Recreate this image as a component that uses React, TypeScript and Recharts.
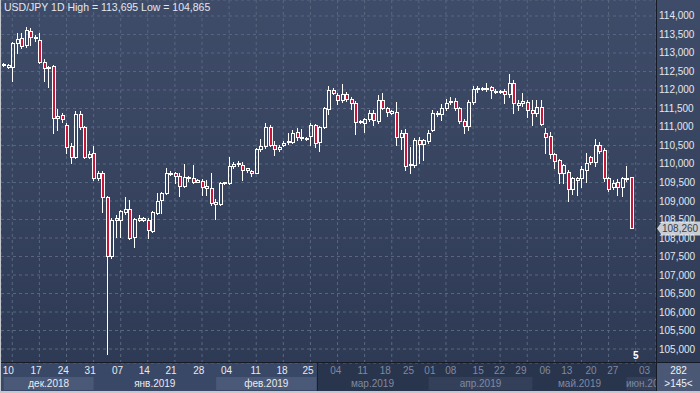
import React from "react";
import { ComposedChart, Bar, XAxis, YAxis, CartesianGrid, ReferenceLine } from "recharts";

// USD/JPY daily candles, Dec 2018 - Jun 2019
const open = [
  112.70, 112.63, 112.63, 113.28, 113.40, 113.22, 113.60, 113.41, 113.35, 112.76,
  112.59, 112.65, 111.24, 111.32, 111.05, 110.49, 110.18, 111.34, 110.99, 110.20,
  110.31, 109.61, 109.75, 109.12, 107.51, 108.49, 108.49, 108.71, 108.78, 108.03,
  108.49, 108.53, 108.50, 108.20, 108.68, 109.03, 109.22, 109.74, 109.75, 109.68,
  109.41, 109.62, 109.61, 109.52, 109.55, 109.34, 109.36, 108.92, 108.92, 109.49,
  109.49, 109.95, 109.99, 109.96, 109.84, 109.80, 109.77, 110.40, 110.49, 111.00,
  110.51, 110.40, 110.51, 110.60, 110.60, 110.87, 110.71, 110.69, 110.76, 111.05,
  110.60, 111.00, 111.48, 112.00, 111.86, 111.73, 111.89, 111.75, 111.64, 111.15,
  111.12, 111.21, 111.37, 111.17, 111.73, 111.51, 111.39, 111.40, 110.72, 110.83,
  109.97, 109.97, 110.65, 110.54, 110.63, 110.92, 111.35, 111.34, 111.52, 111.69,
  111.69, 111.51, 111.17, 111.03, 111.68, 112.02, 112.03, 112.03, 112.07, 111.98,
  111.97, 111.98, 111.89, 112.20, 111.60, 111.66, 111.67, 111.46, 111.39, 111.53,
  110.83, 110.76, 110.27, 110.11, 109.75, 109.79, 109.32, 109.58, 109.61, 109.84,
  110.18, 110.06, 110.51, 110.38, 109.61, 109.39, 109.52, 109.39, 109.60, 109.64,
];
const high = [
  112.74, 112.70, 113.31, 113.53, 113.53, 113.695, 113.68, 113.49, 113.53, 112.83,
  112.66, 112.68, 111.48, 111.38, 111.10, 110.56, 111.44, 111.44, 111.02, 110.35,
  110.49, 109.82, 109.80, 109.13, 108.53, 108.62, 108.76, 109.12, 109.03, 108.55,
  108.63, 108.57, 108.55, 108.73, 109.21, 109.25, 109.88, 109.80, 109.78, 109.75,
  110.00, 109.68, 109.97, 109.60, 109.60, 109.57, 109.75, 109.05, 109.52, 109.52,
  110.18, 110.05, 110.09, 110.06, 109.90, 109.83, 110.42, 110.67, 111.12, 111.05,
  110.62, 110.50, 110.62, 110.85, 110.92, 110.98, 110.94, 110.73, 111.10, 111.08,
  111.02, 111.53, 112.10, 112.05, 111.91, 112.16, 111.95, 111.80, 111.70, 111.20,
  111.24, 111.45, 111.45, 111.86, 111.91, 111.55, 111.45, 111.68, 110.92, 110.95,
  110.47, 110.70, 110.72, 110.68, 110.92, 111.45, 111.42, 111.62, 111.75, 111.82,
  111.78, 111.55, 111.22, 111.72, 112.11, 112.11, 112.09, 112.18, 112.12, 112.03,
  112.00, 112.02, 112.43, 112.27, 111.72, 111.93, 111.72, 111.72, 111.73, 111.73,
  110.96, 110.87, 110.30, 110.14, 110.00, 109.83, 109.66, 109.66, 109.95, 110.29,
  110.22, 110.67, 110.60, 110.42, 109.65, 109.58, 109.60, 109.64, 109.95, 109.66,
];
const low = [
  112.64, 112.60, 112.25, 112.99, 113.13, 113.15, 113.22, 113.33, 112.74, 112.25,
  112.09, 110.83, 110.92, 111.14, 110.29, 110.02, 110.16, 110.95, 110.15, 110.15,
  109.57, 109.57, 108.71, 104.865, 107.46, 108.04, 108.04, 108.65, 107.97, 107.76,
  108.45, 108.47, 107.99, 108.15, 108.65, 108.68, 109.18, 109.70, 109.48, 109.14,
  109.38, 109.55, 109.48, 109.50, 109.16, 109.16, 108.90, 108.51, 108.90, 109.46,
  109.45, 109.90, 109.95, 109.57, 109.78, 109.68, 109.75, 110.35, 110.44, 110.48,
  110.24, 110.36, 110.48, 110.55, 110.58, 110.65, 110.66, 110.66, 110.52, 110.47,
  110.36, 110.98, 111.34, 111.88, 111.62, 111.68, 111.70, 111.48, 110.81, 111.10,
  110.87, 111.15, 111.05, 111.10, 111.48, 111.30, 111.35, 110.51, 110.40, 109.85,
  109.75, 109.92, 110.02, 110.10, 110.58, 110.90, 111.30, 111.20, 111.45, 111.62,
  111.45, 111.10, 110.85, 110.92, 111.62, 111.95, 112.00, 111.98, 111.78, 111.92,
  111.93, 111.66, 111.80, 111.39, 111.45, 111.58, 111.28, 111.05, 111.30, 111.05,
  110.29, 110.15, 109.88, 109.48, 109.48, 109.01, 109.20, 109.16, 109.37, 109.50,
  110.00, 109.95, 110.30, 109.55, 109.28, 109.33, 109.16, 109.14, 109.55, 108.26,
];
const close = [
  112.67, 112.68, 113.28, 113.39, 113.19, 113.62, 113.42, 113.42, 112.76, 112.59,
  112.63, 111.24, 111.31, 111.22, 110.47, 110.18, 111.35, 110.99, 110.20, 110.27,
  109.61, 109.75, 109.12, 107.51, 108.50, 108.53, 108.74, 108.78, 107.99, 108.51,
  108.55, 108.49, 108.22, 108.71, 109.00, 109.22, 109.75, 109.77, 109.68, 109.41,
  109.64, 109.64, 109.52, 109.57, 109.39, 109.40, 108.94, 108.97, 109.49, 109.50,
  109.95, 110.00, 110.02, 109.84, 109.88, 109.75, 110.40, 110.49, 111.01, 110.51,
  110.40, 110.47, 110.58, 110.63, 110.85, 110.72, 110.72, 110.70, 111.05, 110.58,
  111.00, 111.51, 112.00, 111.91, 111.73, 111.89, 111.76, 111.64, 111.14, 111.16,
  111.21, 111.37, 111.19, 111.73, 111.51, 111.41, 111.42, 110.74, 110.83, 109.95,
  110.00, 110.65, 110.54, 110.65, 110.85, 111.37, 111.38, 111.52, 111.66, 111.71,
  111.51, 111.17, 111.03, 111.68, 112.04, 112.06, 112.05, 112.06, 112.00, 111.95,
  111.96, 111.89, 112.20, 111.64, 111.66, 111.71, 111.46, 111.39, 111.53, 111.08,
  110.74, 110.27, 110.09, 109.75, 109.97, 109.32, 109.61, 109.63, 109.86, 110.04,
  110.06, 110.51, 110.36, 109.61, 109.32, 109.49, 109.39, 109.61, 109.62, 108.26,
];

const priceTicks = [
  105, 105.5, 106, 106.5, 107, 107.5, 108, 108.5, 109, 109.5,
  110, 110.5, 111, 111.5, 112, 112.5, 113, 113.5, 114,
];
const weekGrid = [2, 8, 14, 20, 26, 32, 38, 44, 50, 56, 62, 68, 74, 80, 86, 92, 98, 104, 110, 116, 122, 128, 134, 140];

const dateTickPos = [1.6, 7.7, 13.7, 19.6, 25.6, 31.5, 37.4, 43.5, 49.6, 56, 61.8, 67.5, 73.6, 79.5, 84.5, 89.6, 94.3, 98.9, 104.9, 109.6, 114.3, 119.6, 124.4, 129.7, 134.5, 141.5];
const dateTickLabels = ["10", "17", "24", "31", "07", "14", "21", "28", "04", "11", "18", "25", "04", "11", "18", "25", "01", "08", "15", "22", "29", "06", "13", "20", "27", "03"];

const monthStarts = [0.6, 20.5, 47.3, 69.5, 94, 117, 137.5];
const monthEnds = [20.5, 47.3, 69.5, 94, 117, 137.5, 144.5];
const monthLabels = ["дек.2018", "янв.2019", "фев.2019", "мар.2019", "апр.2019", "май.2019", "июн.20"];

const W = 700;
const H = 393;
const PLOT_LEFT = 1;
const AXIS_W = 44;
const EMPTY_SLOTS = 5;
const SLOTS = open.length + EMPTY_SLOTS;
const SLOT_PX = (W - PLOT_LEFT - AXIS_W) / SLOTS;
const FOCUS_END = 69.5;
const FONT = '"Liberation Sans", Arial, sans-serif';
const FS = 10;

const data = Array.from({ length: SLOTS }, (_, i) =>
  i < open.length
    ? { i, range: [low[i], high[i]], o: open[i], h: high[i], l: low[i], c: close[i] }
    : { i }
);

const fmt = (v: number) => v.toFixed(3).replace(".", ",");

function Candle(props: any) {
  const { x, y, width, height, payload } = props;
  if (!payload || payload.o == null || !height) return null;
  const { o, h, l, c } = payload;
  const k = height / (h - l);
  const py = (v: number) => y + (h - v) * k;
  const cx = Math.floor(x + width / 2) + 0.5;
  const up = c >= o;
  const top = Math.round(py(Math.max(o, c))) + 0.5;
  let bot = Math.round(py(Math.min(o, c))) + 0.5;
  if (bot - top < 1) bot = top + 1;
  return (
    <g shapeRendering="crispEdges">
      <line x1={cx} x2={cx} y1={Math.round(y)} y2={top} stroke="#ffffff" />
      <line x1={cx} x2={cx} y1={bot} y2={Math.round(y + height) + 1} stroke="#ffffff" />
      <rect x={cx - 1.5} y={top} width={3} height={bot - top} fill={up ? "none" : "#c8163a"} stroke="#ffffff" />
    </g>
  );
}

function PriceTick(props: any) {
  const { x, y, payload } = props;
  return (
    <text x={x} y={y + 3.5} fontSize={FS} fontFamily={FONT} fill="#e3e7ee" textAnchor="start">
      {fmt(payload.value)}
    </text>
  );
}

function DateTick(props: any) {
  const { x, y, payload } = props;
  const k = dateTickPos.indexOf(payload.value);
  const dim = payload.value > FOCUS_END;
  return (
    <text x={x} y={y + 11} fontSize={FS} fontFamily={FONT} textAnchor="middle" fill={dim ? "#7f8aa0" : "#e8ebf1"}>
      {dateTickLabels[k]}
    </text>
  );
}

function MonthTick(props: any) {
  const { x, y, payload } = props;
  const k = monthStarts.indexOf(payload.value);
  const w = (monthEnds[k] - monthStarts[k]) * SLOT_PX;
  const dim = payload.value >= FOCUS_END;
  const box = k % 2 === 0 ? (dim ? "#34405a" : "#4a5977") : "none";
  return (
    <g>
      <rect x={x} y={y - 1} width={w} height={13} fill={box} />
      <text x={x + w / 2} y={y + 9} fontSize={FS} fontFamily={FONT} textAnchor="middle" fill={dim ? "#7f8aa0" : "#e8ebf1"}>
        {monthLabels[k]}
      </text>
    </g>
  );
}

function PriceTag(props: any) {
  const vb = props.viewBox || {};
  const x = vb.x + vb.width;
  const y = vb.y;
  return (
    <g>
      <polygon
        points={`${x + 1},${y} ${x + 6},${y - 7} ${W},${y - 7} ${W},${y + 7} ${x + 6},${y + 7}`}
        fill="#c9cdd4"
      />
      <text x={x + 6} y={y + 3.5} fontSize={FS} fontFamily={FONT} fill="#3a3f48">
        {fmt(close[close.length - 1])}
      </text>
    </g>
  );
}

export default function App() {
  const bandSplit = PLOT_LEFT + (FOCUS_END + 0.5) * SLOT_PX;
  return (
    <div
      style={{
        position: "absolute",
        left: 0,
        top: 0,
        width: W,
        height: H,
        overflow: "hidden",
        background: "linear-gradient(#3f4c69, #2d3953)",
        fontFamily: FONT,
      }}
    >
      <div style={{ position: "absolute", left: 0, top: 363, width: bandSplit, height: 30, background: "#3a4867" }} />
      <div style={{ position: "absolute", left: bandSplit, top: 363, width: 656 - bandSplit, height: 30, background: "#29344d" }} />
      <div style={{ position: "absolute", left: bandSplit, top: 363, width: 1, height: 30, background: "#1b2130" }} />
      <div style={{ position: "absolute", left: 0, top: 0 }}>
        <ComposedChart
          width={W}
          height={H}
          data={data}
          margin={{ top: 0, right: 0, bottom: 0, left: PLOT_LEFT }}
          barCategoryGap={0}
        >
          <XAxis
            xAxisId="a"
            type="number"
            domain={[-0.5, SLOTS - 0.5]}
            allowDataOverflow
            ticks={dateTickPos}
            interval={0}
            tick={<DateTick />}
            tickLine={false}
            axisLine={false}
            tickSize={0}
            tickMargin={0}
            height={15}
          />
          <XAxis
            xAxisId="b"
            type="number"
            domain={[-0.5, SLOTS - 0.5]}
            allowDataOverflow
            ticks={monthStarts}
            interval={0}
            tick={<MonthTick />}
            tickLine={false}
            axisLine={false}
            tickSize={0}
            tickMargin={0}
            height={15}
          />
          <XAxis xAxisId="z" dataKey="i" type="category" hide height={0} ticks={weekGrid} interval={0} />
          <YAxis
            yAxisId="p"
            orientation="right"
            type="number"
            domain={[104.622, 114.432]}
            allowDataOverflow
            ticks={priceTicks}
            interval={0}
            width={AXIS_W}
            tickLine={false}
            axisLine={false}
            tickSize={0}
            tickMargin={3}
            tick={<PriceTick />}
          />
          <CartesianGrid xAxisId="z" yAxisId="p" stroke="#58677f" strokeDasharray="3 3" />
          <Bar xAxisId="z" yAxisId="p" dataKey="range" shape={<Candle />} isAnimationActive={false} />
          <ReferenceLine
            xAxisId="z"
            yAxisId="p"
            y={close[close.length - 1]}
            stroke="none"
            label={<PriceTag />}
          />
        </ComposedChart>
      </div>
      <div style={{ position: "absolute", left: 0, top: 362, width: W, height: 1, background: "#141a26" }} />
      <div style={{ position: "absolute", left: 656, top: 0, width: 1, height: H, background: "#141a26" }} />
      <div style={{ position: "absolute", left: 0, top: 0, width: 1, height: H, background: "#c3c7ce" }} />
      <div style={{ position: "absolute", left: 0, top: 391, width: W, height: 2, background: "#c3c7ce" }} />
      <div
        style={{
          position: "absolute",
          left: 657,
          top: 363,
          width: 43,
          height: 28,
          background: "#4a5876",
          color: "#eef0f4",
          fontSize: FS,
          lineHeight: "13px",
          textAlign: "center",
          paddingTop: 1,
          boxSizing: "border-box",
        }}
      >
        <div>282</div>
        <div>{">145<"}</div>
      </div>
      <div style={{ position: "absolute", left: 633, top: 350, color: "#ffffff", fontSize: FS, fontWeight: "bold" }}>5</div>
      <div style={{ position: "absolute", left: 4, top: 1, color: "#e3e7ee", fontSize: 10.5, whiteSpace: "nowrap" }}>
        USD/JPY 1D High = 113,695 Low = 104,865
      </div>
    </div>
  );
}
